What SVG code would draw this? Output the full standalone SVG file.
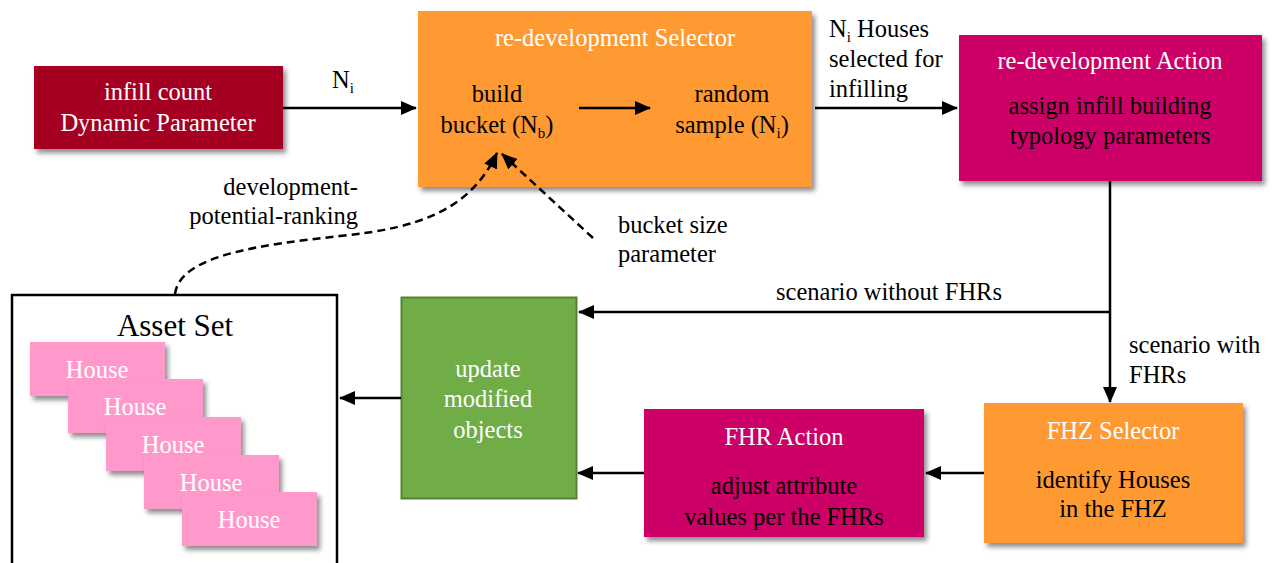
<svg xmlns="http://www.w3.org/2000/svg" width="1275" height="563" viewBox="0 0 1275 563">
<style>
text{font-family:"Liberation Serif","Times New Roman","DejaVu Serif",serif;font-size:24.5px;}
.w{fill:#fff;}
.k{fill:#000;}
.c{text-anchor:middle;}
.ln{stroke:#000;stroke-width:2.5;fill:none;}
.dash{stroke:#000;stroke-width:2.5;fill:none;stroke-dasharray:8,5;}
.sub{font-size:15px;}
</style>
<defs>
<filter id="sh" x="-10%" y="-10%" width="130%" height="130%">
<feDropShadow dx="3" dy="4" stdDeviation="2.5" flood-color="#000" flood-opacity="0.45"/>
</filter>
<marker id="ah" markerWidth="16" markerHeight="14" refX="15" refY="7" orient="auto" markerUnits="userSpaceOnUse">
<path d="M0,0 L16,7 L0,14 Z" fill="#000"/>
</marker>
</defs>

<g id="infill-count">
<rect x="34" y="66" width="249" height="83" fill="#A50021" filter="url(#sh)"/>
<text x="158" y="100" class="w c">infill count</text>
<text x="158" y="131" class="w c">Dynamic Parameter</text>
</g>

<g id="redevelopment-selector">
<rect x="418" y="11" width="394" height="176" fill="#FF9933" filter="url(#sh)"/>
<text x="615" y="46" class="w c">re-development Selector</text>
<text x="497" y="102" class="k c">build</text>
<text x="497" y="133" class="k c">bucket (N<tspan class="sub" dy="5">b</tspan><tspan dy="-5">)</tspan></text>
<text x="732" y="102" class="k c">random</text>
<text x="732" y="133" class="k c">sample (N<tspan class="sub" dy="5">i</tspan><tspan dy="-5">)</tspan></text>
</g>

<g id="redevelopment-action">
<rect x="959" y="35" width="303" height="146" fill="#CC0066" filter="url(#sh)"/>
<text x="1110" y="69" class="w c">re-development Action</text>
<text x="1110" y="114" class="k c">assign infill building</text>
<text x="1110" y="144" class="k c">typology parameters</text>
</g>

<g id="update-modified-objects">
<rect x="401.5" y="297.5" width="175" height="201" fill="#70AD47" stroke="#548235" stroke-width="2"/>
<text x="488" y="377" class="w c">update</text>
<text x="488" y="407" class="w c">modified</text>
<text x="488" y="438" class="w c">objects</text>
</g>

<g id="fhr-action">
<rect x="644" y="409" width="280" height="128" fill="#CC0066" filter="url(#sh)"/>
<text x="784" y="445" class="w c">FHR Action</text>
<text x="784" y="494" class="k c">adjust attribute</text>
<text x="784" y="525" class="k c">values per the FHRs</text>
</g>

<g id="fhz-selector">
<rect x="984" y="403" width="259" height="140" fill="#FF9933" filter="url(#sh)"/>
<text x="1113" y="439" class="w c">FHZ Selector</text>
<text x="1113" y="488" class="k c">identify Houses</text>
<text x="1113" y="517" class="k c">in the FHZ</text>
</g>

<g id="asset-set">
<rect x="12" y="295" width="325" height="290" fill="#fff" stroke="#000" stroke-width="2.5"/>
<text x="175" y="336" class="k c" style="font-size:31px">Asset Set</text>
<g id="house-1"><rect x="30" y="342" width="135" height="54" fill="#FF99CC" filter="url(#sh)"/><text x="97" y="378" class="w c">House</text></g>
<g id="house-2"><rect x="68" y="379" width="135" height="54" fill="#FF99CC" filter="url(#sh)"/><text x="135" y="415" class="w c">House</text></g>
<g id="house-3"><rect x="106" y="417" width="135" height="54" fill="#FF99CC" filter="url(#sh)"/><text x="173" y="453" class="w c">House</text></g>
<g id="house-4"><rect x="144" y="455" width="135" height="54" fill="#FF99CC" filter="url(#sh)"/><text x="211" y="491" class="w c">House</text></g>
<g id="house-5"><rect x="182" y="492" width="135" height="54" fill="#FF99CC" filter="url(#sh)"/><text x="249" y="528" class="w c">House</text></g>
</g>

<g id="connectors">
<line class="ln" x1="283" y1="108" x2="416" y2="108" marker-end="url(#ah)"/>
<line class="ln" x1="579" y1="108" x2="650" y2="108" marker-end="url(#ah)"/>
<line class="ln" x1="815" y1="108" x2="957" y2="108" marker-end="url(#ah)"/>
<polyline class="ln" points="1110,181 1110,312 1110,402" marker-end="url(#ah)"/>
<line class="ln" x1="1110" y1="312" x2="579" y2="312" marker-end="url(#ah)"/>
<line class="ln" x1="401" y1="398" x2="340" y2="398" marker-end="url(#ah)"/>
<line class="ln" x1="644" y1="473" x2="578" y2="473" marker-end="url(#ah)"/>
<line class="ln" x1="984" y1="473" x2="926" y2="473" marker-end="url(#ah)"/>
<path class="dash" d="M175,294 C180,255 260,245 340,236 C420,228 470,210 497,153" marker-end="url(#ah)"/>
<line class="dash" x1="593" y1="238" x2="502" y2="154" marker-end="url(#ah)"/>
<text x="332" y="88" class="k">N<tspan class="sub" dy="5">i</tspan></text>
<text x="829" y="37" class="k">N<tspan class="sub" dy="5">i</tspan><tspan dy="-5"> Houses</tspan></text>
<text x="829" y="67" class="k">selected for</text>
<text x="829" y="97" class="k">infilling</text>
<text x="889" y="300" class="k c">scenario without FHRs</text>
<text x="1129" y="353" class="k">scenario with</text>
<text x="1129" y="383" class="k">FHRs</text>
<text x="358" y="195" class="k" text-anchor="end">development-</text>
<text x="358" y="224" class="k" text-anchor="end">potential-ranking</text>
<text x="618" y="233" class="k">bucket size</text>
<text x="618" y="262" class="k">parameter</text>
</g>
</svg>
